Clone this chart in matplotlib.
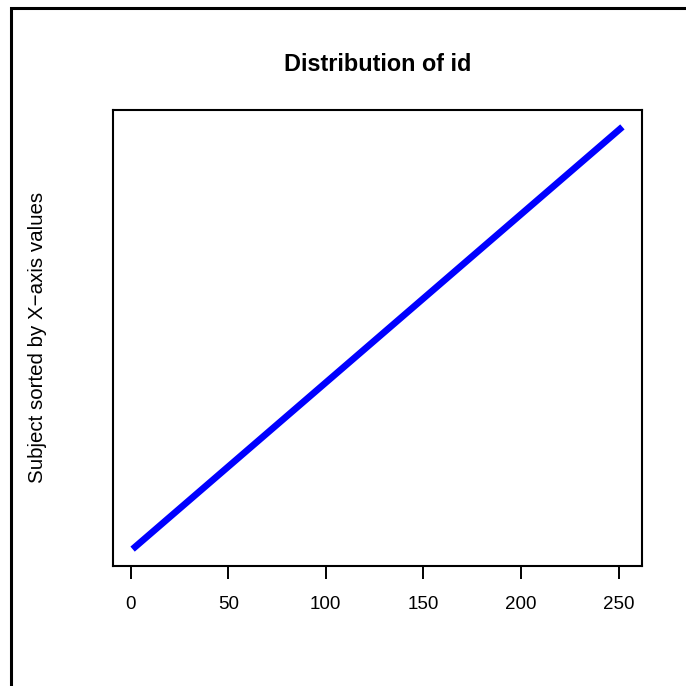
import matplotlib.pyplot as plt
from matplotlib.patches import Rectangle

# subject ids, sorted
subject_ids = [
    1, 2, 3, 4, 5, 6, 7, 8, 9, 10, 11, 12, 13, 14, 15, 16, 17, 18, 19, 20,
    21, 22, 23, 24, 25, 26, 27, 28, 29, 30, 31, 32, 33, 34, 35, 36, 37, 38, 39, 40,
    41, 42, 43, 44, 45, 46, 47, 48, 49, 50, 51, 52, 53, 54, 55, 56, 57, 58, 59, 60,
    61, 62, 63, 64, 65, 66, 67, 68, 69, 70, 71, 72, 73, 74, 75, 76, 77, 78, 79, 80,
    81, 82, 83, 84, 85, 86, 87, 88, 89, 90, 91, 92, 93, 94, 95, 96, 97, 98, 99, 100,
    101, 102, 103, 104, 105, 106, 107, 108, 109, 110, 111, 112, 113, 114, 115, 116,
    117, 118, 119, 120, 121, 122, 123, 124, 125, 126, 127, 128, 129, 130, 131, 132,
    133, 134, 135, 136, 137, 138, 139, 140, 141, 142, 143, 144, 145, 146, 147, 148,
    149, 150, 151, 152, 153, 154, 155, 156, 157, 158, 159, 160, 161, 162, 163, 164,
    165, 166, 167, 168, 169, 170, 171, 172, 173, 174, 175, 176, 177, 178, 179, 180,
    181, 182, 183, 184, 185, 186, 187, 188, 189, 190, 191, 192, 193, 194, 195, 196,
    197, 198, 199, 200, 201, 202, 203, 204, 205, 206, 207, 208, 209, 210, 211, 212,
    213, 214, 215, 216, 217, 218, 219, 220, 221, 222, 223, 224, 225, 226, 227, 228,
    229, 230, 231, 232, 233, 234, 235, 236, 237, 238, 239, 240, 241, 242, 243, 244,
    245, 246, 247, 248, 249, 250, 251, 252,
]
x_ticks = [0, 50, 100, 150, 200, 250]

plt.rcParams["font.family"] = ["Liberation Sans", "DejaVu Sans"]

fig = plt.figure(figsize=(6.86, 6.86), dpi=100)
ax = fig.add_axes([113 / 686, 1 - 566 / 686, 529 / 686, 456 / 686])

ranks = list(range(1, len(subject_ids) + 1))
ax.plot(subject_ids, ranks, color="#0000ff", linewidth=4.8,
        solid_capstyle="butt")

lo, hi = min(subject_ids), max(subject_ids)
pad = 0.04 * (hi - lo)
ax.set_xlim(lo - pad, hi + pad)
lo_r, hi_r = min(ranks), max(ranks)
pad_r = 0.04 * (hi_r - lo_r)
ax.set_ylim(lo_r - pad_r, hi_r + pad_r)

ax.set_xticks(x_ticks)
ax.set_xticklabels([str(t) for t in x_ticks])
ax.set_yticks([])
ax.tick_params(axis="x", length=9.5, width=1.4, pad=12, labelsize=13.5)
for sp in ax.spines.values():
    sp.set_linewidth(1.5)

ax.set_title("Distribution of id", fontsize=16.8, fontweight="bold", pad=28)
fig.text(38 / 686, 1 - 337 / 686, "Subject sorted by X\u2212axis values",
         rotation=90, ha="center", va="center", fontsize=14.8)

# outer frame, cut off on the right and bottom
fig.patches.append(Rectangle((10.5 / 686, -0.05), 1.2, 1 - 7.5 / 686 + 0.05,
                             transform=fig.transFigure, fill=False,
                             edgecolor="black", linewidth=2.2))

fig.savefig("out.png", dpi=100)
